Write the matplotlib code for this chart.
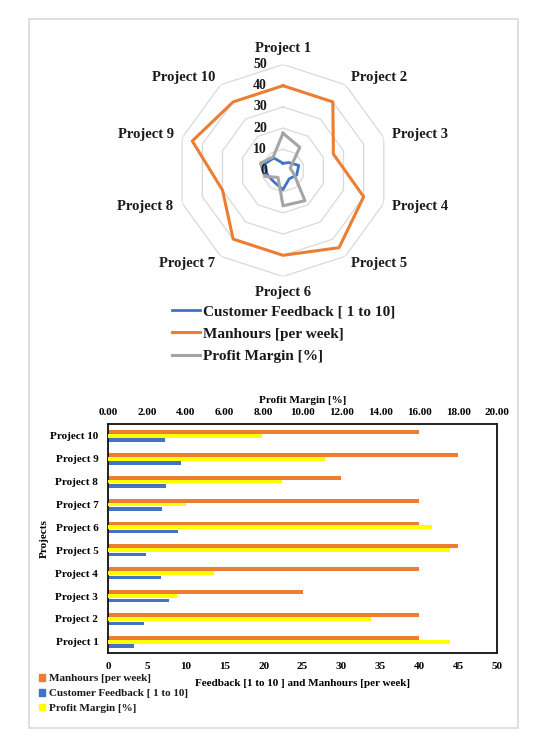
import numpy as np
import matplotlib
matplotlib.use("Agg")
import matplotlib.pyplot as plt
from matplotlib.patches import Rectangle, Patch
from matplotlib.lines import Line2D
from matplotlib.transforms import offset_copy

plt.rcParams['font.family'] = ['Liberation Serif', 'DejaVu Serif']
plt.rcParams['font.weight'] = 'bold'
plt.rcParams['text.color'] = '#1a1a1a'

projects = ['Project 1', 'Project 2', 'Project 3', 'Project 4', 'Project 5',
            'Project 6', 'Project 7', 'Project 8', 'Project 9', 'Project 10']
feedback = [3.4, 4.6, 7.8, 6.8, 4.9, 9.0, 6.9, 7.5, 9.4, 7.3]
manhours = [40, 40, 25, 40, 45, 40, 40, 30, 45, 40]
profit = [17.56, 13.5, 3.56, 5.44, 17.6, 16.66, 4.0, 8.97, 11.15, 7.9]

radar_ticks = [0, 10, 20, 30, 40, 50]
bottom_ticks = list(range(0, 51, 5))
top_ticks = list(range(0, 21, 2))

label_feedback = 'Customer Feedback [ 1 to 10]'
label_manhours = 'Manhours [per week]'
label_profit = 'Profit Margin [%]'

c_blue = '#4472C4'
c_orange = '#ED7D31'
c_gray = '#A5A5A5'
c_yellow = '#FFFF00'

W, H = 550, 750
fig = plt.figure(figsize=(5.5, 7.5), dpi=100)
fig.patch.set_facecolor('white')

# ---------- Radar chart ----------
cx, cy, R = 283, 170.5, 106
rax = fig.add_axes([(cx - R) / W, 1 - (cy + R) / H, 2 * R / W, 2 * R / H], projection='polar')
rax.set_theta_zero_location('N')
rax.set_theta_direction(-1)
rax.set_ylim(0, 50)
rax.grid(False)
rax.set_xticks([])
rax.set_yticks([])
rax.spines['polar'].set_visible(False)
rax.patch.set_alpha(0)

n = len(projects)
theta = np.arange(n) * 2 * np.pi / n
theta_c = np.append(theta, theta[0])

for r in radar_ticks[1:]:
    rax.plot(theta_c, [r] * (n + 1), color='#d9d9d9', lw=0.9, zorder=1)

def closed(v):
    return list(v) + [v[0]]

l1, = rax.plot(theta_c, closed(feedback), color=c_blue, lw=2.0, zorder=3)
l2, = rax.plot(theta_c, closed(manhours), color=c_orange, lw=2.2, zorder=3)
l3, = rax.plot(theta_c, closed(profit), color=c_gray, lw=2.2, zorder=4)

for t, name in zip(theta, projects):
    s, c = np.sin(t), np.cos(t)
    ha = 'left' if s > 0.1 else ('right' if s < -0.1 else 'center')
    if c > 0.95:
        va = 'bottom'
    elif c < -0.95:
        va = 'top'
    else:
        va = 'center'
    rax.text(t, 54.3, name, ha=ha, va=va, fontsize=10.5, fontweight='bold')

trans = offset_copy(rax.transData, fig=fig, x=-16, y=0, units='dots')
for r in radar_ticks:
    rax.text(0, r, str(r), transform=trans, ha='right', va='center',
             fontsize=10, fontweight='bold', zorder=6)

fig.legend([l1, l2, l3], [label_feedback, label_manhours, label_profit],
           loc='upper left', bbox_to_anchor=(172 / W, 1 - 305 / H),
           frameon=False, fontsize=11, handlelength=1.85, handletextpad=0.2,
           labelspacing=0.55, borderpad=0, borderaxespad=0)

# ---------- Bar chart ----------
ax = fig.add_axes([108 / W, 1 - 653.3 / H, (497 - 108) / W, (653.3 - 424.3) / H])
y = np.arange(n)
b_man = ax.barh(y + 0.17, manhours, height=0.17, color=c_orange, zorder=2)
b_fb = ax.barh(y - 0.19, feedback, height=0.15, color=c_blue, zorder=2)
ax.set_xlim(0, 50)
ax.set_ylim(-0.5, 9.5)
ax.set_xticks(bottom_ticks)
ax.set_xticklabels([str(v) for v in bottom_ticks], fontsize=8, fontweight='bold')
ax.set_yticks(y)
ax.set_yticklabels(projects, fontsize=8, fontweight='bold')
ax.tick_params(axis='both', length=0)
ax.tick_params(axis='y', pad=7)
ax.tick_params(axis='x', pad=6)
ax.set_xlabel('Feedback [1 to 10 ] and Manhours [per week]', fontsize=8, fontweight='bold', labelpad=6)
ax.set_ylabel('Projects', fontsize=8, fontweight='bold', labelpad=1)
for sp in ax.spines.values():
    sp.set_color('#1a1a1a')
    sp.set_linewidth(1.1)

ax2 = ax.twiny()
b_pm = ax2.barh(y, profit, height=0.17, color=c_yellow, zorder=3)
ax2.set_xlim(0, 20)
ax2.set_xticks(top_ticks)
ax2.set_xticklabels([f'{v:.2f}' for v in top_ticks], fontsize=8, fontweight='bold')
ax2.tick_params(axis='x', length=0, pad=5)
ax2.set_xlabel(label_profit, fontsize=8, fontweight='bold', labelpad=4)
for sp in ax2.spines.values():
    sp.set_color('#1a1a1a')
    sp.set_linewidth(1.1)

handles = [Patch(color=c_orange), Patch(color=c_blue), Patch(color=c_yellow)]
fig.legend(handles, [label_manhours, label_feedback, label_profit],
           loc='upper left', bbox_to_anchor=(39 / W, 1 - 674 / H),
           frameon=False, fontsize=8, handlelength=0.55, handleheight=0.55,
           handletextpad=0.35, labelspacing=0.5, borderpad=0, borderaxespad=0)

# ---------- outer border ----------
fig.add_artist(Rectangle((29 / W, 1 - 728 / H), (518 - 29) / W, (728 - 19) / H,
                         transform=fig.transFigure, fill=False,
                         edgecolor='#d9d9d9', lw=1.2))

fig.savefig('out.png', dpi=100)
